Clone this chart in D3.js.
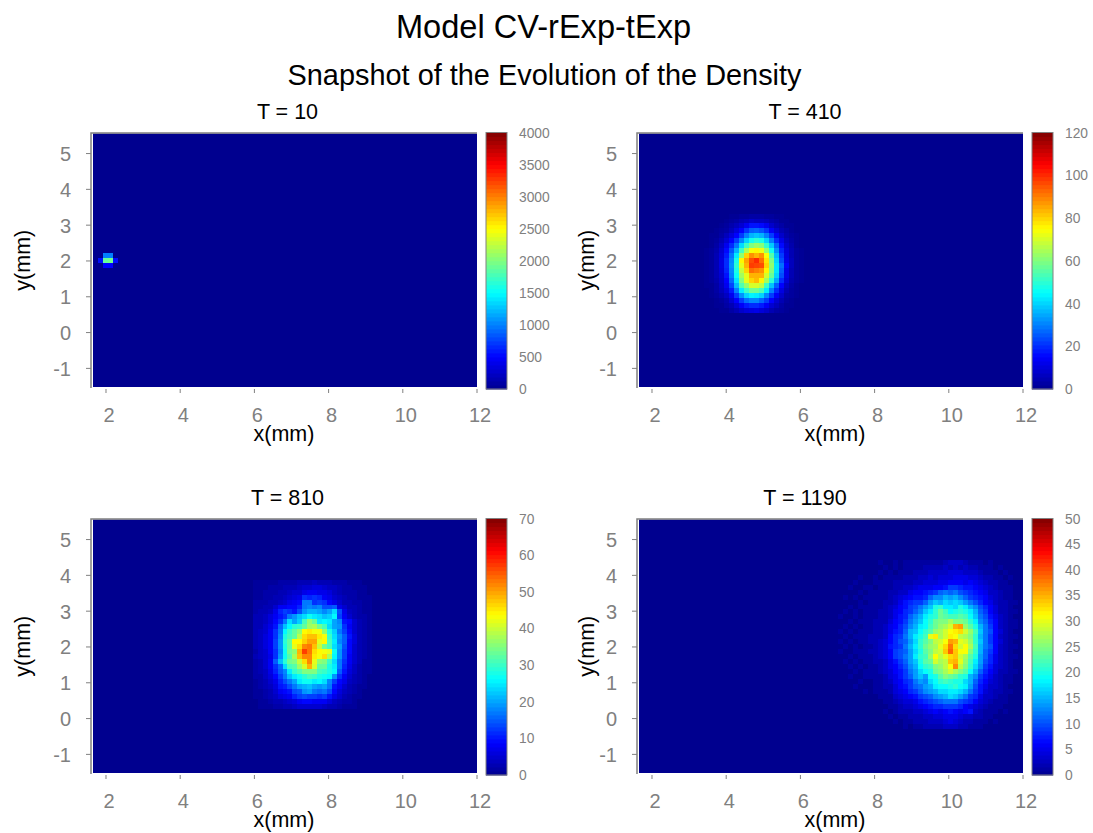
<!DOCTYPE html>
<html>
<head>
<meta charset="utf-8">
<title>Model CV-rExp-tExp</title>
<script src="https://cdn.jsdelivr.net/npm/d3@7"></script>
<style>
  html, body { margin: 0; padding: 0; background: #fff; }
  text { font-family: "Liberation Sans", Arial, sans-serif; }
</style>
</head>
<body>
<div id="chart"></div>
<script>
var xTicks = [2, 4, 6, 8, 10, 12];
var yTicks = [5, 4, 3, 2, 1, 0, -1];
var xExtent = [1.65, 12];
var yExtent = [-1.52, 5.56];
var nCols = 77;
var nRows = 51;

var ticks10 = [0, 500, 1000, 1500, 2000, 2500, 3000, 3500, 4000];
var ticks410 = [0, 20, 40, 60, 80, 100, 120];
var ticks810 = [0, 10, 20, 30, 40, 50, 60, 70];
var ticks1190 = [0, 5, 10, 15, 20, 25, 30, 35, 40, 45, 50];

// cell values, only the part that is not background
var density10 = [
  [0, 1000, 1000, 0],
  [550, 1900, 1950, 550],
  [0, 500, 500, 0]
];

var density410 = [
  [0,0,0,0,0,0,1,1,2,2,3,3,3,2,2,1,1,0,0,0,0,0],
  [0,0,0,0,0,1,2,3,5,6,8,7,7,6,4,3,1,1,0,0,0,0],
  [0,0,0,0,1,2,4,6,9,13,17,17,16,13,8,5,3,1,1,0,0,0],
  [0,0,0,1,2,3,6,10,15,21,26,27,25,21,14,9,5,3,1,0,0,0],
  [0,0,1,1,3,6,10,15,22,30,36,38,36,30,22,14,8,4,2,1,0,0],
  [0,0,1,2,5,9,15,22,31,40,47,50,48,40,30,20,12,6,3,1,0,0],
  [0,0,1,3,7,13,20,29,41,52,60,63,61,51,39,27,16,8,4,1,0,0],
  [0,1,2,4,9,16,25,36,52,65,74,76,73,62,47,32,19,10,5,2,1,0],
  [0,1,2,5,10,18,29,43,62,80,88,84,88,74,55,37,22,11,5,2,1,0],
  [0,1,2,5,11,20,31,48,76,86,96,100,92,78,60,40,24,12,6,2,1,0],
  [0,1,2,5,11,20,32,50,72,84,98,97,96,80,62,42,28,15,6,2,1,0],
  [0,1,2,5,10,19,31,48,68,80,92,90,88,76,60,42,26,12,5,2,1,0],
  [0,1,2,5,9,17,30,46,64,72,84,84,84,70,57,40,24,12,5,2,1,0],
  [0,1,2,4,8,15,27,42,60,72,80,83,76,64,50,35,20,10,4,2,1,0],
  [0,1,1,3,7,13,23,37,54,62,70,70,67,52,38,26,15,7,3,1,0,0],
  [0,0,1,3,6,10,18,30,43,52,58,58,54,43,30,20,11,5,2,1,0,0],
  [0,0,1,2,4,7,13,22,32,40,44,43,40,31,22,14,8,3,2,1,0,0],
  [0,0,0,1,2,4,9,15,22,28,31,31,27,22,15,9,5,2,1,0,0,0],
  [0,0,0,1,1,3,5,9,14,18,20,20,18,14,9,6,3,1,1,0,0,0],
  [0,0,0,0,1,1,3,5,8,10,11,12,10,8,5,3,2,1,0,0,0,0]
];

var density810 = [
  [1,1,1,1,1,2,2,2,2,3,3,3,4,3,3,3,2,2,2,1,1,1,0,0],
  [1,1,1,2,2,2,3,3,3,4,5,5,6,6,5,4,4,3,2,2,1,1,1,0],
  [1,1,2,2,2,3,3,4,5,5,7,8,8,7,7,6,4,3,2,2,2,1,1,0],
  [1,1,2,2,3,3,4,5,6,7,12,11,12,11,8,7,5,4,3,2,2,1,1,1],
  [2,2,2,3,3,4,5,7,8,9,17,17,12,13,12,9,7,5,3,3,2,2,1,1],
  [2,2,3,3,5,8,8,9,9,11,17,18,17,18,14,14,15,7,5,3,3,2,1,1],
  [2,3,3,4,7,11,13,12,10,14,19,21,21,20,18,20,24,14,7,4,3,2,1,1],
  [3,3,4,6,8,10,12,17,19,22,24,27,25,24,22,23,26,13,8,5,3,2,2,1],
  [3,3,4,6,9,12,17,24,20,23,31,36,33,25,26,25,20,18,10,9,5,3,2,1],
  [3,3,5,7,10,16,22,26,29,30,33,37,38,34,31,24,20,19,12,8,5,3,2,1],
  [3,4,5,8,12,17,26,30,33,36,44,45,43,43,36,28,23,17,13,9,5,3,2,1],
  [3,4,6,8,12,18,28,31,33,39,46,48,48,45,43,30,24,19,15,10,6,3,2,1],
  [3,4,6,8,13,19,29,33,44,44,47,50,50,42,44,31,25,18,15,9,6,3,2,1],
  [3,4,6,8,13,19,28,33,42,46,52,53,48,40,34,31,24,20,14,9,5,3,2,1],
  [2,4,5,8,12,18,27,34,36,49,57,53,46,44,43,42,27,19,13,9,5,3,2,1],
  [3,4,5,7,12,19,27,32,38,48,52,52,45,43,46,38,26,19,13,8,5,3,2,1],
  [2,3,5,8,15,22,29,34,35,40,46,52,42,36,35,30,24,17,12,8,5,3,1,1],
  [2,3,5,8,12,16,24,31,32,37,41,49,41,33,33,28,25,17,11,7,4,2,1,1],
  [2,3,4,7,11,15,18,25,30,32,35,35,35,31,30,28,26,15,10,6,4,2,1,1],
  [2,2,4,6,9,13,17,22,25,27,29,31,30,28,27,26,19,12,8,5,3,2,1,0],
  [1,2,3,5,7,11,14,17,20,25,27,27,25,26,24,18,13,9,7,4,3,2,1,0],
  [1,2,3,4,6,10,11,14,17,20,21,22,20,19,20,17,10,8,5,3,2,1,1,0],
  [1,1,2,3,5,8,9,10,14,15,19,20,17,16,17,14,9,6,4,3,2,1,0,0],
  [1,1,2,3,4,6,7,8,11,13,14,13,13,12,13,10,7,5,3,2,1,1,0,0],
  [0,1,1,2,3,3,4,5,6,8,9,9,8,8,8,6,4,3,2,2,1,0,0,0],
  [0,1,1,1,2,2,3,3,4,5,5,5,5,5,4,3,3,2,1,1,1,0,0,0]
];

var density1190 = [
  [0,0,1,0,0,1,0,1,1,1,1,1,1,1,1,2,3,3,3,2,1,1,1,0,1,0,0,0,0,0,0],
  [0,0,0,1,0,1,0,1,1,1,1,2,2,2,2,3,2,3,2,3,2,2,1,1,1,0,1,0,0,0,0],
  [0,0,1,0,1,0,1,1,1,2,2,2,3,3,3,3,4,4,4,3,3,3,2,1,1,1,0,1,0,0,0],
  [0,1,0,1,1,1,1,2,2,2,3,3,4,3,4,4,4,5,5,5,4,4,3,2,2,1,1,0,1,0,0],
  [0,1,1,1,1,2,2,2,2,3,3,4,4,4,5,5,6,6,6,5,6,5,4,3,2,2,1,1,0,0,0],
  [1,0,1,1,1,2,2,3,3,4,5,5,5,6,6,7,9,9,8,7,7,6,5,4,3,2,1,1,1,0,0],
  [1,1,1,1,2,2,3,3,5,6,6,7,8,9,11,12,11,12,10,9,8,7,6,5,3,3,2,1,1,0,0],
  [1,1,1,1,2,3,4,5,6,7,7,8,11,13,13,15,14,15,13,11,9,8,7,6,4,3,2,1,1,0,0],
  [1,1,1,2,2,3,5,7,8,9,9,11,14,16,15,17,16,17,16,14,12,10,8,6,5,3,2,2,1,1,0],
  [1,1,1,2,3,4,6,7,9,10,12,14,16,20,21,18,18,17,20,18,15,13,10,8,6,4,2,2,1,0,0],
  [1,1,2,2,3,5,6,8,9,11,13,16,18,21,24,22,19,20,21,20,18,15,11,9,6,4,2,2,1,1,0],
  [1,1,2,2,3,5,7,8,11,13,15,18,20,21,24,23,22,22,23,22,19,16,12,10,7,5,3,2,1,0,0],
  [1,2,2,2,4,6,7,9,12,14,16,19,21,24,25,25,27,25,25,24,21,18,13,11,8,6,3,2,1,1,0],
  [1,2,2,3,5,6,8,10,13,15,18,19,22,24,26,27,29,35,36,26,23,20,15,12,9,6,3,2,1,1,0],
  [1,2,2,3,5,7,8,11,15,16,19,21,23,26,27,29,31,32,33,29,26,22,16,12,10,6,4,2,1,0,0],
  [2,2,2,3,6,8,9,12,15,18,20,22,30,32,27,29,32,31,28,27,25,21,15,12,9,6,3,2,1,1,0],
  [2,2,3,4,6,8,10,11,14,17,21,23,25,28,29,31,36,35,30,29,26,21,16,12,9,6,4,2,1,0,0],
  [1,2,3,4,7,8,9,12,15,18,21,24,26,27,30,33,38,33,29,31,27,22,15,12,10,6,3,2,1,1,0],
  [2,2,3,4,6,9,10,11,14,17,20,23,25,28,29,34,39,34,31,31,25,21,15,11,9,6,3,2,1,0,0],
  [1,2,3,4,6,9,10,12,14,18,21,22,26,31,28,30,33,34,29,27,23,20,14,11,8,5,3,2,1,1,0],
  [1,2,2,3,5,7,9,11,14,16,20,23,24,29,27,28,34,35,30,26,22,18,14,10,8,5,3,2,1,0,0],
  [1,1,2,3,5,6,8,10,13,15,19,21,22,25,26,28,31,37,28,25,21,17,13,9,7,4,3,2,1,0,0],
  [1,1,2,3,4,6,7,9,12,14,17,19,20,24,25,27,29,27,25,23,19,15,11,8,6,4,2,2,1,1,0],
  [1,1,1,2,4,5,7,9,11,14,16,14,19,20,23,25,24,23,21,20,15,13,9,7,5,3,2,1,1,0,0],
  [0,1,1,2,3,5,6,8,9,12,14,13,17,19,21,22,21,20,20,17,15,11,8,6,4,3,2,1,1,0,0],
  [0,1,1,2,2,4,6,7,9,11,12,14,15,18,19,19,20,21,19,18,14,10,7,5,3,3,2,1,0,0,0],
  [0,1,1,1,2,4,5,6,8,9,11,13,14,15,17,17,18,18,17,15,12,9,7,4,3,2,2,1,1,0,0],
  [0,0,1,1,1,3,4,5,6,7,9,10,11,13,14,15,17,16,14,12,9,8,5,3,3,2,1,1,0,0,0],
  [0,0,0,1,1,2,3,4,4,5,7,8,9,10,11,12,12,12,10,9,8,6,4,3,2,1,1,1,0,0,0],
  [0,0,0,0,1,1,2,3,3,4,5,6,7,8,8,9,9,9,8,6,5,4,3,2,1,1,1,0,0,0,0],
  [0,0,0,1,0,1,2,2,2,3,3,4,5,6,5,6,7,6,5,6,7,3,2,1,1,1,0,1,0,0,0],
  [0,0,0,0,1,0,1,1,2,2,2,3,3,4,4,5,5,5,4,3,3,2,2,1,1,0,0,0,0,0,0],
  [0,0,0,0,0,1,0,1,1,2,2,2,3,3,3,4,5,4,3,2,2,1,1,1,0,1,0,0,0,0,0],
  [0,0,0,0,0,0,0,1,0,1,1,2,2,2,2,3,3,3,2,2,1,1,1,0,0,0,0,0,0,0,0]
];

// faint halo to the left of the T = 1190 blob
var halo1190 = [
  [0,0,0,0,0,0,0,0,0,0],
  [0,0,0,0,0,0,0,0,0,0],
  [0,0,0,0,0,0,0,0,0,0],
  [0,0,0,0,0,0,0,0,1,0],
  [0,0,0,0,0,0,0,1,0,0],
  [0,0,0,0,0,0,1,0,0,1],
  [0,0,0,0,0,0,0,0,1,0],
  [0,0,0,0,0,1,0,1,0,1],
  [0,0,0,0,0,0,0,0,1,0],
  [0,0,0,0,0,0,1,0,1,1],
  [0,0,0,0,0,1,0,1,0,1],
  [0,0,0,0,1,0,0,1,0,1],
  [0,0,0,0,0,0,1,0,1,1],
  [0,0,0,0,0,1,0,1,0,1],
  [0,0,0,0,1,0,1,0,1,1],
  [0,0,0,0,0,1,0,1,1,1],
  [0,0,0,0,1,0,1,0,1,1],
  [0,0,0,0,0,1,0,1,0,1],
  [0,0,0,0,1,0,0,1,1,1],
  [0,0,0,0,0,0,1,0,1,1],
  [0,0,0,0,0,1,0,1,0,1],
  [0,0,0,0,0,0,1,0,1,0],
  [0,0,0,0,0,0,0,1,0,1],
  [0,0,0,0,0,0,1,0,0,1],
  [0,0,0,0,0,0,0,0,1,0],
  [0,0,0,0,0,0,0,1,0,0],
  [0,0,0,0,0,0,0,0,0,1],
  [0,0,0,0,0,0,0,0,0,0],
  [0,0,0,0,0,0,0,0,0,0],
  [0,0,0,0,0,0,0,0,0,0]
];

var panels = [
  {title: 'T = 10', left: 93, top: 133.5, max: 4000, ticks: ticks10, titleX: 194.5, xLabelX: 191, yLabelX: -63,
    patches: [{col: 1, row: 24, values: density10}]},
  {title: 'T = 410', left: 639, top: 133.5, max: 120, ticks: ticks410, titleX: 166, xLabelX: 196, yLabelX: -45,
    patches: [{col: 12, row: 16, values: density410}]},
  {title: 'T = 810', left: 93, top: 519.5, max: 70, ticks: ticks810, titleX: 194.5, xLabelX: 191, yLabelX: -63,
    patches: [{col: 32, row: 12, values: density810}]},
  {title: 'T = 1190', left: 639, top: 519.5, max: 50, ticks: ticks1190, titleX: 166, xLabelX: 196, yLabelX: -45,
    patches: [{col: 46, row: 8, values: density1190}, {col: 36, row: 8, values: halo1190}]}
];

var jet = d3.scaleLinear()
  .domain([0, 0.125, 0.375, 0.625, 0.875, 1])
  .range(['#00008f', '#0000ff', '#00ffff', '#ffff00', '#ff0000', '#800000'])
  .clamp(true);

var grey = '#808080';
var plotW = 384;
var plotH = 253.5;

var svg = d3.select('#chart')
  .append('svg')
  .attr('width', 1093)
  .attr('height', 833)
  .style('display', 'block');

svg.append('text')
  .text('Model CV-rExp-tExp')
  .attr('x', 543.5).attr('y', 38)
  .attr('text-anchor', 'middle')
  .attr('font-size', 32.6);

svg.append('text')
  .text('Snapshot of the Evolution of the Density')
  .attr('x', 544.5).attr('y', 85)
  .attr('text-anchor', 'middle')
  .attr('font-size', 28.9);

panels.forEach(function (p) {
  var g = svg.append('g').attr('transform', 'translate(' + p.left + ',' + p.top + ')');

  var x = d3.scaleLinear().domain(xExtent).range([0, plotW]);
  var y = d3.scaleLinear().domain(yExtent).range([plotH, 0]);
  var colX = d3.scaleLinear().domain([0, nCols]).range([0, plotW]);
  var rowY = d3.scaleLinear().domain([0, nRows]).range([0.5, plotH + 0.5]);
  var color = function (v) { return jet(v / p.max); };

  g.append('rect')
    .attr('width', plotW).attr('height', plotH)
    .attr('fill', color(0));

  p.patches.forEach(function (patch) {
    var cells = [];
    patch.values.forEach(function (row, r) {
      row.forEach(function (v, c) {
        if (v > 0) { cells.push({col: patch.col + c, row: patch.row + r, v: v}); }
      });
    });
    g.append('g').selectAll('rect')
      .data(cells)
      .enter()
      .append('rect')
      .attr('x', function (d) { return colX(d.col); })
      .attr('y', function (d) { return rowY(d.row); })
      .attr('width', colX(1))
      .attr('height', plotH / nRows)
      .attr('shape-rendering', 'crispEdges')
      .attr('fill', function (d) { return color(d.v); });
  });

  // frame: grey left and top edges only
  g.append('path')
    .attr('d', 'M-2,' + (plotH + 1) + 'V-0.5H' + plotW)
    .attr('fill', 'none')
    .attr('stroke', grey)
    .attr('stroke-width', 1.5);

  var yAxis = g.append('g').attr('class', 'y-ticks');
  yAxis.selectAll('line')
    .data(yTicks).enter().append('line')
    .attr('x1', -7).attr('x2', -2)
    .attr('y1', function (d) { return y(d); })
    .attr('y2', function (d) { return y(d); })
    .attr('stroke', grey);
  yAxis.selectAll('text')
    .data(yTicks).enter().append('text')
    .text(function (d) { return d; })
    .attr('x', -22)
    .attr('y', function (d) { return y(d) + 7.5; })
    .attr('text-anchor', 'end')
    .attr('font-size', 20)
    .attr('fill', grey);

  var xAxis = g.append('g').attr('class', 'x-ticks');
  xAxis.selectAll('line')
    .data(xTicks).enter().append('line')
    .attr('x1', function (d) { return x(d); })
    .attr('x2', function (d) { return x(d); })
    .attr('y1', plotH + 2).attr('y2', plotH + 6)
    .attr('stroke', grey);
  xAxis.selectAll('text')
    .data(xTicks).enter().append('text')
    .text(function (d) { return d; })
    .attr('x', function (d) { return x(d) + 3; })
    .attr('y', plotH + 35)
    .attr('text-anchor', 'middle')
    .attr('font-size', 20)
    .attr('fill', grey);

  g.append('text')
    .text(p.title)
    .attr('x', p.titleX).attr('y', -15)
    .attr('text-anchor', 'middle')
    .attr('font-size', 21.5);

  g.append('text')
    .text('x(mm)')
    .attr('x', p.xLabelX).attr('y', plotH + 54)
    .attr('text-anchor', 'middle')
    .attr('font-size', 21.5);

  g.append('text')
    .text('y(mm)')
    .attr('transform', 'translate(' + p.yLabelX + ',' + (plotH / 2) + ') rotate(-90)')
    .attr('text-anchor', 'middle')
    .attr('font-size', 21.5);

  // colour bar
  var barX = plotW + 9;
  var barW = 21;
  var barY = d3.scaleLinear().domain([0, p.max]).range([plotH + 2, -1]);
  var levels = d3.range(64);
  g.append('g').selectAll('rect')
    .data(levels).enter().append('rect')
    .attr('x', barX)
    .attr('width', barW)
    .attr('y', function (d) { return barY((d + 1) / 64 * p.max); })
    .attr('height', (plotH + 3) / 64 + 0.5)
    .attr('fill', function (d) { return jet((d + 0.5) / 64); });
  g.append('rect')
    .attr('x', barX).attr('y', -1)
    .attr('width', barW).attr('height', plotH + 3)
    .attr('fill', 'none')
    .attr('stroke', grey);

  g.append('g').selectAll('text')
    .data(p.ticks).enter().append('text')
    .text(function (d) { return d; })
    .attr('x', barX + barW + 12)
    .attr('y', function (d) { return barY(d) + 5; })
    .attr('font-size', 13.8)
    .attr('fill', grey);
});
</script>
</body>
</html>
